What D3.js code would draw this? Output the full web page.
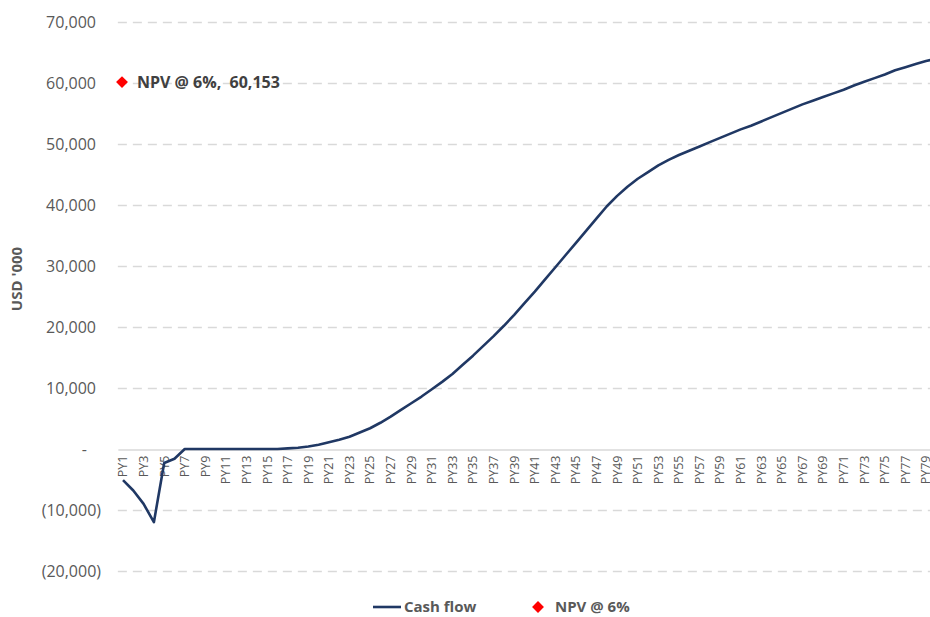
<!DOCTYPE html>
<html>
<head>
<meta charset="utf-8">
<script src="https://cdn.jsdelivr.net/npm/d3@7"></script>
<style>
  html, body { margin: 0; padding: 0; background: #fff; }
  svg { display: block; font-family: "Open Sans", "Liberation Sans", sans-serif; }
</style>
</head>
<body>
<svg id="chart" width="930" height="617"></svg>
<script>
// Project years PY1..PY80
const categories = d3.range(1, 81).map(i => "PY" + i);

// Cumulative cash flow, USD '000
const cashFlow = [
  -5100, -6800, -9000, -12000, -2300, -1600, 0, 0, 0, 0,
  0, 0, 0, 0, 0, 0, 100, 200, 400, 700,
  1100, 1500, 2000, 2700, 3400, 4300, 5300, 6400, 7500, 8600,
  9800, 11000, 12300, 13800, 15300, 16900, 18500, 20200, 22000, 23900,
  25800, 27800, 29800, 31800, 33800, 35800, 37800, 39800, 41500, 43000,
  44300, 45400, 46500, 47400, 48200, 48900, 49600, 50300, 51000, 51700,
  52400, 53000, 53700, 54400, 55100, 55800, 56500, 57100, 57700, 58300,
  58900, 59600, 60200, 60800, 61400, 62100, 62600, 63100, 63600, 64000
];

// Net present value marker
const npvCategory = "PY1";
const npvValue = 60153;
const npvName = "NPV @ 6%";

const yTicks = [-20000, -10000, 0, 10000, 20000, 30000, 40000, 50000, 60000, 70000];
const xTickLabels = categories.filter((c, i) => i % 2 === 0);

const svg = d3.select("#chart");
const plotLeft = 117.85, step = 10.295;

const x = d3.scaleBand()
  .domain(categories)
  .range([plotLeft, plotLeft + step * categories.length])
  .paddingInner(0).paddingOuter(0);
const xc = c => x(c) + x.bandwidth() / 2;

const y = d3.scaleLinear().domain([-20000, 70000]).range([571, 22]);

const grey = "#595959";
const fmt = v => {
  if (v === 0) return "-";
  const s = d3.format(",")(Math.abs(v));
  return v < 0 ? "(" + s + ")" : s;
};

// Gridlines
const grid = svg.append("g");
grid.selectAll("line")
  .data(yTicks.filter(v => v !== 0))
  .join("line")
  .attr("x1", plotLeft).attr("x2", plotLeft + step * categories.length)
  .attr("y1", d => Math.round(y(d)) + 0.5).attr("y2", d => Math.round(y(d)) + 0.5)
  .attr("stroke", "#d9d9d9").attr("stroke-width", 1.3)
  .attr("stroke-dasharray", "9,6");

// Category axis along zero
const xAxis = d3.axisBottom(x)
  .tickValues(xTickLabels)
  .tickSize(0)
  .tickPadding(0);
const xg = svg.append("g")
  .attr("transform", `translate(0,${Math.round(y(0)) + 0.5})`)
  .call(xAxis);
xg.select(".domain").attr("stroke", "#d9d9d9").attr("stroke-width", 1.3);
xg.selectAll(".tick text")
  .attr("transform", "rotate(-90)")
  .attr("text-anchor", "end")
  .attr("x", -6).attr("y", 0).attr("dy", "0.35em")
  .attr("fill", grey)
  .style("font-size", "12.5px")
  .style("font-family", "'Open Sans', sans-serif");

// Value axis labels
const yAxis = d3.axisLeft(y).tickValues(yTicks).tickSize(0).tickFormat(fmt);
const yg = svg.append("g").attr("transform", "translate(96,0)").call(yAxis);
yg.select(".domain").remove();
yg.selectAll(".tick text")
  .attr("x", d => d < 0 ? 5 : (d === 0 ? -9 : 0))
  .attr("fill", grey)
  .style("font-size", "16px")
  .style("font-family", "'Open Sans', sans-serif");

// Axis title
svg.append("text")
  .attr("transform", "translate(22,279) rotate(-90)")
  .attr("text-anchor", "middle")
  .attr("fill", grey)
  .style("font-size", "15px")
  .style("font-weight", "bold")
  .text("USD '000");

// Cash flow line
const lineColor = "#203864";
const line = d3.line()
  .x((d, i) => xc(categories[i]))
  .y(d => y(d));
svg.append("path")
  .datum(cashFlow)
  .attr("d", line)
  .attr("fill", "none")
  .attr("stroke", lineColor)
  .attr("stroke-width", 2.6)
  .attr("stroke-linejoin", "round");

// NPV marker and label
const diamond = d3.symbol().type(d3.symbolDiamond2).size(90);
svg.append("path")
  .attr("d", diamond())
  .attr("transform", `translate(${xc(npvCategory) - 1},${y(npvValue)})`)
  .attr("fill", "#ff0000");
svg.append("text")
  .attr("x", xc(npvCategory) + 14)
  .attr("y", y(npvValue))
  .attr("dy", "0.36em")
  .attr("fill", "#404040")
  .style("font-size", "16px")
  .style("font-weight", "bold")
  .style("white-space", "pre")
  .text(npvName + ",  " + d3.format(",")(npvValue));

// Legend
const lg = svg.append("g").attr("transform", "translate(0,607)");
lg.append("line")
  .attr("x1", 373).attr("x2", 401).attr("y1", 0).attr("y2", 0)
  .attr("stroke", lineColor).attr("stroke-width", 2.6);
lg.append("text")
  .attr("x", 404).attr("dy", "0.36em")
  .attr("fill", grey).style("font-size", "15px").style("font-weight", "bold")
  .text("Cash flow");
lg.append("path")
  .attr("d", diamond())
  .attr("transform", "translate(538,0)")
  .attr("fill", "#ff0000");
lg.append("text")
  .attr("x", 555).attr("dy", "0.36em")
  .attr("fill", grey).style("font-size", "15px").style("font-weight", "bold")
  .text(npvName);
</script>
</body>
</html>
